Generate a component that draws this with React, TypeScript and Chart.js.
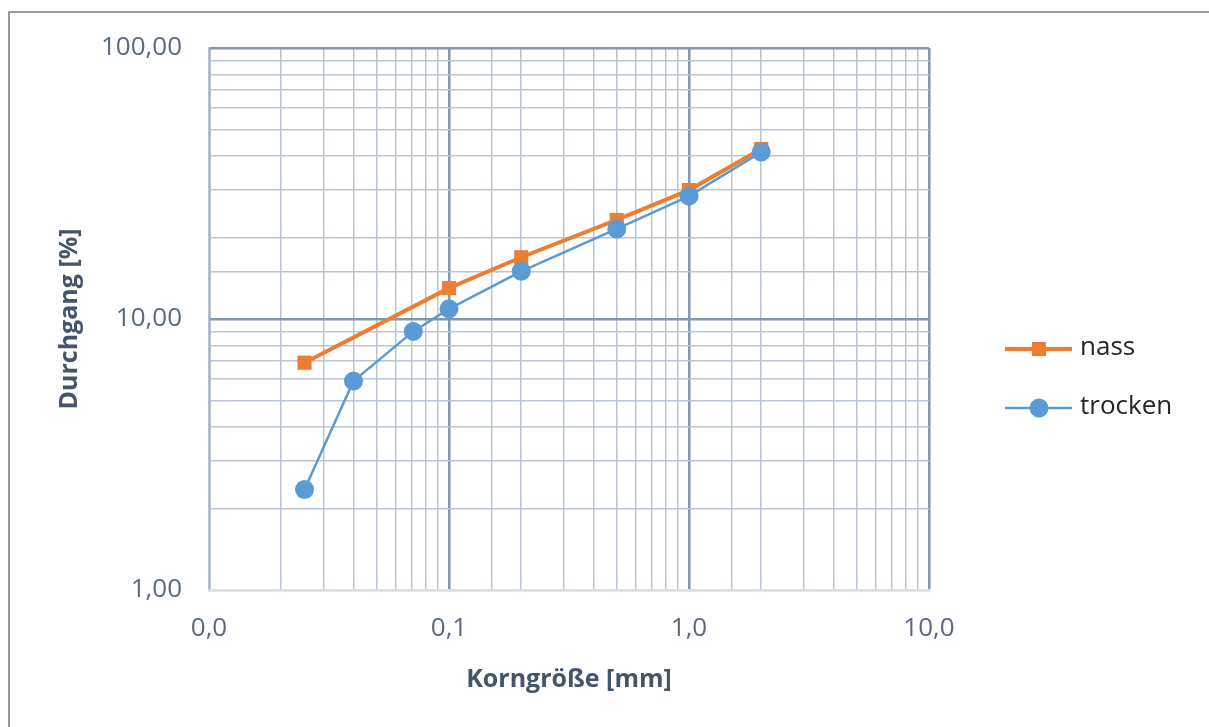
import React, { useEffect, useRef } from "react";
import { Chart, registerables } from "chart.js";

Chart.register(...registerables);

const nassX = [0.025, 0.1, 0.2, 0.5, 1, 2];
const nassY = [6.9, 13.0, 16.9, 23.2, 29.9, 42.4];
const trockenX = [0.025, 0.04, 0.071, 0.1, 0.2, 0.5, 1, 2];
const trockenY = [2.35, 5.9, 9.0, 10.9, 15.0, 21.5, 28.4, 41.3];
const seriesNames = ["nass", "trocken"];
const xTitle = "Korngröße [mm]";
const yTitle = "Durchgang [%]";
const xRange = [0.01, 10];
const yRange = [1, 100];

const FONT = "'Open Sans', 'Noto Sans', sans-serif";
const ORANGE = "#ed7d31";
const BLUE = "#5b9bd5";
const MAJOR = "#8497b0";
const MINOR = "#b9c4d6";

const isDecade = (v: number) => {
  const l = Math.log10(v);
  return Math.abs(l - Math.round(l)) < 1e-9;
};

const legendPlugin = {
  id: "customLegend",
  afterDraw(chart: any) {
    const ctx = chart.ctx;
    const area = chart.chartArea;
    const x0 = area.right + 76;
    const yc = (area.top + area.bottom) / 2;
    const items = chart.data.datasets.map((d: any) => d);
    const ys = [yc + 30, yc + 89];
    ctx.save();
    items.forEach((ds: any, i: number) => {
      const y = ys[i];
      ctx.strokeStyle = ds.borderColor;
      ctx.lineWidth = ds.borderWidth;
      ctx.beginPath();
      ctx.moveTo(x0, y);
      ctx.lineTo(x0 + 67, y);
      ctx.stroke();
      ctx.fillStyle = ds.pointBackgroundColor;
      const cx = x0 + 34;
      if (ds.pointStyle === "rect") {
        const s = ds.pointRadius * Math.SQRT2;
        ctx.fillRect(cx - s / 2, y - s / 2, s, s);
      } else {
        ctx.beginPath();
        ctx.arc(cx, y, ds.pointRadius, 0, Math.PI * 2);
        ctx.fill();
      }
      ctx.fillStyle = "#262626";
      ctx.font = `26px ${FONT}`;
      ctx.textBaseline = "middle";
      ctx.textAlign = "left";
      ctx.fillText(ds.label, x0 + 75, y - 1);
    });
    ctx.restore();
  },
};

export default function App() {
  const ref = useRef<HTMLCanvasElement | null>(null);
  useEffect(() => {
    if (!ref.current) return;
    const chart = new Chart(ref.current, {
      type: "line",
      data: {
        datasets: [
          {
            label: seriesNames[0],
            data: nassX.map((x, i) => ({ x, y: nassY[i] })),
            borderColor: ORANGE,
            backgroundColor: ORANGE,
            pointBackgroundColor: ORANGE,
            pointBorderColor: ORANGE,
            borderWidth: 4,
            pointStyle: "rect",
            pointRadius: 10,
            pointBorderWidth: 0,
            order: 1,
          },
          {
            label: seriesNames[1],
            data: trockenX.map((x, i) => ({ x, y: trockenY[i] })),
            borderColor: BLUE,
            backgroundColor: BLUE,
            pointBackgroundColor: BLUE,
            pointBorderColor: BLUE,
            borderWidth: 2.5,
            pointStyle: "circle",
            pointRadius: 9.5,
            pointBorderWidth: 0,
            order: 0,
          },
        ],
      },
      options: {
        responsive: false,
        animation: false,
        layout: { padding: { left: 0, top: 48, right: 280, bottom: 0 } },
        plugins: { legend: { display: false }, tooltip: { enabled: false } },
        scales: {
          x: {
            type: "logarithmic",
            min: xRange[0],
            max: xRange[1],
            afterFit: (s: any) => {
              s.height = 137;
            },
            grid: {
              drawTicks: false,
              color: (c: any) => (c.tick && isDecade(c.tick.value) ? MAJOR : MINOR),
              lineWidth: (c: any) => (c.tick && isDecade(c.tick.value) ? 2.5 : 1.5),
            },
            border: { display: true, color: "#d9dee7", width: 2.5, z: 1 },
            ticks: {
              autoSkip: false,
              maxRotation: 0,
              padding: 23,
              color: "#596a80",
              font: { family: FONT, size: 26 },
              callback: (v: any) => (isDecade(Number(v)) ? Number(v).toFixed(1).replace(".", ",") : ""),
            },
            title: {
              display: true,
              text: xTitle,
              color: "#44546a",
              font: { family: FONT, size: 25, weight: "bold" },
              padding: { top: 0, bottom: 32 },
            },
          },
          y: {
            type: "logarithmic",
            min: yRange[0],
            max: yRange[1],
            afterFit: (s: any) => {
              s.width = 209;
            },
            grid: {
              drawTicks: false,
              color: (c: any) =>
                c.tick && c.tick.value === yRange[0] ? "#d9dee7" : c.tick && isDecade(c.tick.value) ? MAJOR : MINOR,
              lineWidth: (c: any) => (c.tick && isDecade(c.tick.value) ? 2.5 : 1.5),
            },
            border: { display: true, color: MINOR, width: 1.5 },
            ticks: {
              autoSkip: false,
              padding: 27,
              color: "#596a80",
              font: { family: FONT, size: 26 },
              callback: (v: any) => (isDecade(Number(v)) ? Number(v).toFixed(2).replace(".", ",") : ""),
            },
            title: {
              display: true,
              text: yTitle,
              color: "#44546a",
              font: { family: FONT, size: 25, weight: "bold" },
              padding: { top: 55, bottom: 0 },
            },
          },
        },
      },
      plugins: [legendPlugin],
    } as any);
    return () => chart.destroy();
  }, []);

  return (
    <div style={{ position: "fixed", left: 0, top: 0, width: 1209, height: 727, background: "#fff", overflow: "hidden" }}>
      <div
        style={{
          position: "absolute",
          left: 8,
          top: 11,
          width: 1300,
          height: 800,
          borderLeft: "2px solid #9a9a9a",
          borderTop: "2px solid #9a9a9a",
        }}
      />
      <canvas ref={ref} width={1209} height={727} style={{ position: "absolute", left: 0, top: 0 }} />
    </div>
  );
}
